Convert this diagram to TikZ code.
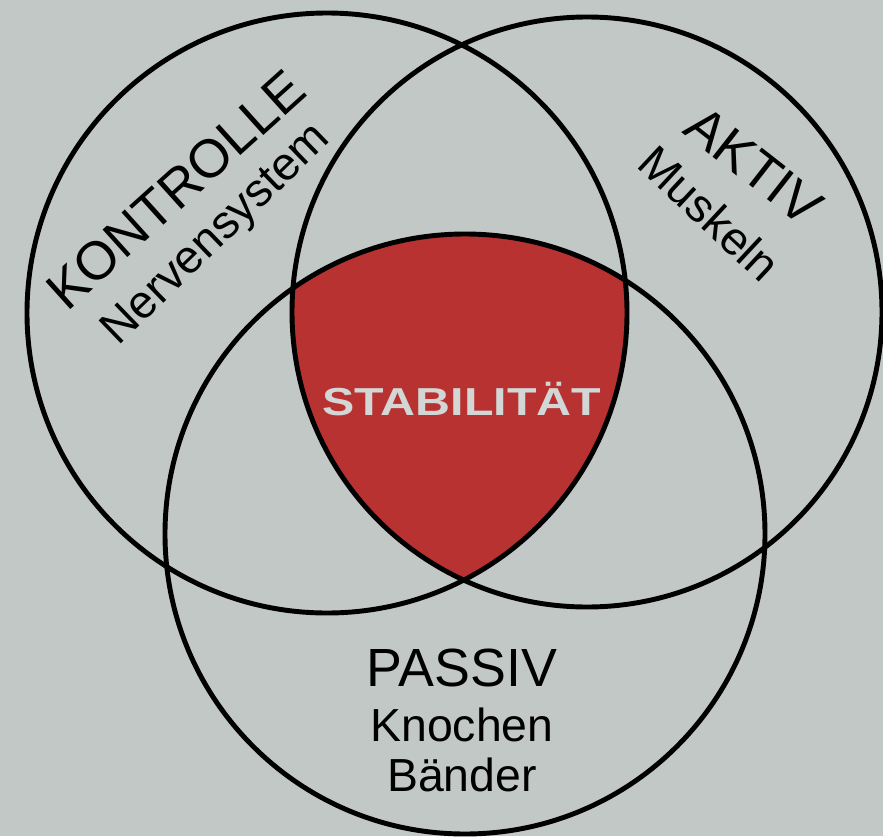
\documentclass[tikz,border=0pt]{standalone}
\usepackage{fontspec}
\setmainfont{Liberation Sans}
\usepackage{graphicx}
\usepackage{tikz}

\definecolor{bggrey}{RGB}{193,200,198}
\definecolor{stabred}{RGB}{184,50,50}
\definecolor{stabtext}{RGB}{210,214,212}

\begin{document}
\begin{tikzpicture}
    [ring/.style = {draw = black, line width = 1.4pt},
     bigtext/.style = {inner sep = 0pt, font = \fontsize{15.3}{18}\selectfont},
     smalltext/.style = {inner sep = 0pt, font = \fontsize{13.2}{16}\selectfont}]
    \fill[bggrey] (0,0) rectangle (8.83,8.36);
    \useasboundingbox (0,0) rectangle (8.83,8.36);
    \coordinate (ctrl) at (3.27,5.23);
    \coordinate (akt) at (5.87,5.24);
    \coordinate (pas) at (4.65,3.02);
    % intersection of all three
    \begin{scope}
      \clip (ctrl) circle (3);
      \clip (akt) circle (2.95);
      \fill[stabred] (pas) circle (3);
    \end{scope}
    \draw[ring] (ctrl) circle (3);
    \draw[ring] (akt) circle (2.95);
    \draw[ring] (pas) circle (3);
    \node[bigtext, anchor = base west, rotate = 42] (kontrolle) at (0.665,5.23) {KONTROLLE};
    \node[smalltext, anchor = base west, rotate = 44] (nerv) at (1.18,4.89) {Nervensystem};
    \node[bigtext, anchor = base west, rotate = -38] (aktiv) at (6.81,7.04) {AKTIV};
    \node[smalltext, anchor = base west, rotate = -43] (muskeln) at (6.345,6.70) {Muskeln};
    \node[bigtext, anchor = base] (passiv) at (4.62,1.50) {PASSIV};
    \node[smalltext, anchor = base] (knochen) at (4.62,0.95) {Knochen};
    \node[smalltext, anchor = base] (baender) at (4.62,0.45) {Bänder};
    \node[inner sep = 0pt, anchor = base, text = stabtext,
          font = \bfseries\fontsize{11.1}{13}\selectfont] (stab) at (4.62,4.21)
          {\scalebox{1.24}[1]{STABILITÄT}};
\end{tikzpicture}
\end{document}
